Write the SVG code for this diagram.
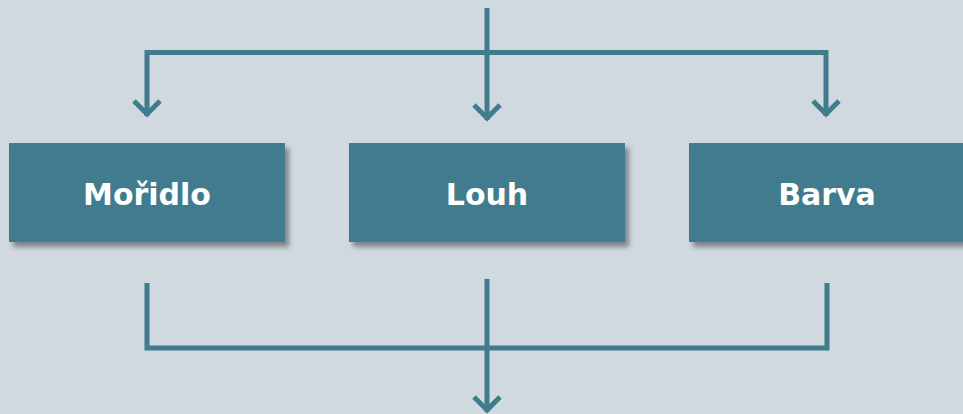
<svg xmlns="http://www.w3.org/2000/svg" width="963" height="414" viewBox="0 0 963 414">
<style>
.box{fill:#417C8D;filter:url(#sh)}
.lbl{fill:#ffffff;font-family:"DejaVu Sans",Verdana,sans-serif;font-weight:bold;font-size:30px;text-anchor:middle}
.ln{fill:none;stroke:#417C8D;stroke-width:5;stroke-linejoin:miter;stroke-linecap:butt}
</style>
<defs>
<filter id="sh" x="-10%" y="-10%" width="130%" height="140%">
<feDropShadow dx="4" dy="5" stdDeviation="2.5" flood-color="#3a3f44" flood-opacity="0.55"/>
</filter>
</defs>
<rect width="963" height="414" fill="#D1D9E0"/>
<g id="connectors">
<path class="ln" d="M147,116 V52.5 H826 V116"/>
<path class="ln" d="M487,8 V120"/>
<path class="ln" d="M134,101 L147,114 L160,101"/>
<path class="ln" d="M474,105 L487,118 L500,105"/>
<path class="ln" d="M813,101 L826,114 L839,101"/>
<path class="ln" d="M147,283 V348 H827 V283"/>
<path class="ln" d="M487,279 V412"/>
<path class="ln" d="M474,397 L487,410 L500,397"/>
</g>
<g id="n-moridlo">
<rect class="box" x="9" y="143" width="276" height="99"/>
<text class="lbl" x="147" y="205">Mořidlo</text>
</g>
<g id="n-louh">
<rect class="box" x="349" y="143" width="276" height="99"/>
<text class="lbl" x="487" y="205">Louh</text>
</g>
<g id="n-barva">
<rect class="box" x="689" y="143" width="276" height="99"/>
<text class="lbl" x="827" y="205">Barva</text>
</g>
</svg>
